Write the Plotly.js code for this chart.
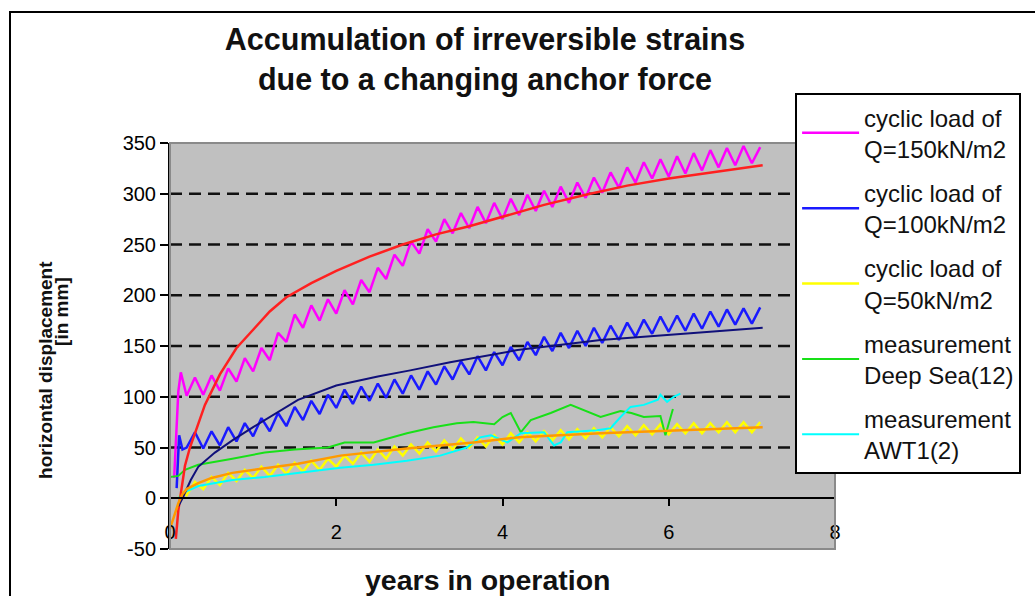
<!DOCTYPE html>
<html>
<head>
<meta charset="utf-8">
<script src="https://cdn.plot.ly/plotly-3.0.1.min.js"></script>
<style>
html, body { margin: 0; padding: 0; background: #ffffff; }
#chart { width: 1035px; height: 596px; }
</style>
</head>
<body>
<div id="chart"></div>
<script>
// ---------- data ----------
const cycleYears = [0.2,0.3,0.4,0.5,0.6,0.7,0.8,0.9,1.0,1.1,1.2,1.3,1.4,1.5,1.6,1.7,1.8,1.9,2.0,2.1,
  2.2,2.3,2.4,2.5,2.6,2.7,2.8,2.9,3.0,3.1,3.2,3.3,3.4,3.5,3.6,3.7,3.8,3.9,4.0,4.1,
  4.2,4.3,4.4,4.5,4.6,4.7,4.8,4.9,5.0,5.1,5.2,5.3,5.4,5.5,5.6,5.7,5.8,5.9,6.0,6.1,
  6.2,6.3,6.4,6.5,6.6,6.7,6.8,6.9,7.0,7.1];

const q150StartYears = [0.05, 0.1, 0.13];
const q150StartValues = [20, 105, 124];
const q150CycleValues = [101,119,102,121,106,128,115,138,125,148,136,163,154,181,168,190,175,196,182,205,
  191,215,203,227,216,240,229,253,241,265,253,275,261,281,266,287,271,291,275,295,
  279,299,283,303,287,307,291,311,296,316,301,321,306,326,311,331,315,334,317,337,
  320,340,323,343,326,345,328,347,330,346];

const q100StartYears = [0.08, 0.11, 0.15];
const q100StartValues = [10, 62, 48];
const q100CycleValues = [50,65,49,66,52,70,56,74,61,79,66,84,71,90,77,96,83,102,89,107,
  93,110,96,113,99,117,103,121,107,125,112,130,117,135,122,140,126,144,131,149,
  136,154,141,159,145,163,148,165,150,168,153,170,156,173,159,176,162,179,164,180,
  165,182,167,184,169,186,171,187,172,188];

const q50StartYears = [0.1, 0.15];
const q50StartValues = [0, 6];
const q50CycleValues = [3,16,9,21,13,25,17,28,20,31,22,33,24,35,26,37,28,39,31,42,
  34,45,36,48,39,51,42,53,44,55,46,57,48,59,50,60,51,62,53,64,
  55,65,56,66,57,67,58,68,59,69,60,70,61,71,62,72,63,73,63,73,
  64,74,64,74,65,75,65,75,65,75];

const fit150Years = [0.07,0.1,0.14,0.18,0.24,0.3,0.42,0.6,0.8,1.0,1.2,1.4,1.7,2.0,2.4,2.8,3.2,3.6,4.0,4.5,5.0,5.5,6.0,6.5,7.13];
const fit150Values = [-40,-12,10,32,50,64,92,122,148,166,184,198,212,224,238,250,260,268,277,289,299,308,315,321,328];

const fit100Years = [0.1,0.15,0.25,0.34,0.54,0.75,1.0,1.14,1.54,2.0,2.5,2.89,3.37,4.18,5.18,6.18,7.13];
const fit100Values = [-8,0,18,31,45,57,70,77,97,111,120,126,134,146,156,162,168];

const fit50Years = [0.0,0.05,0.1,0.15,0.2,0.34,0.5,0.75,1.0,1.54,2.05,2.85,3.65,4.2,5.18,6.27,7.13];
const fit50Values = [-30,-18,-5,4,9,15,20,25,28,34,42,49,55,60,64,67,70];

const deepSeaYears = [0,0.1,0.18,0.34,0.75,1.14,1.5,1.9,2.1,2.45,2.85,3.17,3.45,3.65,3.9,4.0,4.1,4.22,4.34,4.58,4.82,4.98,5.18,5.42,5.55,5.7,5.9,5.96,6.05];
const deepSeaValues = [21,22,28,33,39,45,48,50,55,55,64,70,74,75,73,80,84,65,77,84,92,87,80,86,84,80,81,62,88];

const awtYears = [0.1,0.15,0.34,0.75,1.14,1.54,2.05,2.45,2.85,3.25,3.57,3.73,3.86,4.06,4.22,4.5,4.62,4.7,4.78,5.14,5.3,5.42,5.54,5.7,5.87,5.9,5.98,6.06,6.14];
const awtValues = [0,5,12,18,21,25,30,33,37,42,50,60,62,55,64,65,52,55,65,67,69,80,90,92,97,102,95,100,103];

const seriesNames = [
  'cyclic load of<br>Q=150kN/m2',
  'cyclic load of<br>Q=100kN/m2',
  'cyclic load of<br>Q=50kN/m2',
  'measurement<br>Deep Sea(12)',
  'measurement<br>AWT1(2)'
];

const xTickValues = [0, 2, 4, 6, 8];
const yTickValues = [-50, 0, 50, 100, 150, 200, 250, 300, 350];
const gridValues = [50, 100, 150, 200, 250, 300];

// ---------- drawing ----------
const FONT = 'Liberation Sans, Arial, Helvetica, sans-serif';

function lineTrace(x, y, name, color, width, group, legend) {
  return {
    type: 'scatter', mode: 'lines', x: x, y: y, name: name,
    line: { color: color, width: width },
    legendgroup: group, showlegend: legend, hoverinfo: 'skip'
  };
}

const traces = [
  lineTrace(q150StartYears.concat(cycleYears), q150StartValues.concat(q150CycleValues), seriesNames[0], '#ff00ff', 2.5, 'g1', true),
  lineTrace(q100StartYears.concat(cycleYears), q100StartValues.concat(q100CycleValues), seriesNames[1], '#1a1aff', 2.5, 'g2', true),
  lineTrace(q50StartYears.concat(cycleYears), q50StartValues.concat(q50CycleValues), seriesNames[2], '#ffff00', 2.5, 'g3', true),
  lineTrace(deepSeaYears, deepSeaValues, seriesNames[3], '#18e018', 2, 'g4', true),
  lineTrace(awtYears, awtValues, seriesNames[4], '#00ffff', 2, 'g5', true),
  lineTrace(fit150Years, fit150Values, 'fit150', '#ff2020', 2.5, 'f1', false),
  lineTrace(fit100Years, fit100Values, 'fit100', '#10107a', 2, 'f2', false),
  lineTrace(fit50Years, fit50Values, 'fit50', '#ff9a00', 2.5, 'f3', false)
];

const shapes = gridValues.map(v => ({
  type: 'line', xref: 'paper', yref: 'y', x0: 0, x1: 1, y0: v, y1: v,
  line: { color: '#111111', width: 2.5, dash: '12px,7px' }, layer: 'below'
}));
// plot area border
shapes.push({ type: 'rect', xref: 'paper', yref: 'paper', x0: 0, x1: 1, y0: 0, y1: 1,
  line: { color: '#8a8a8a', width: 2 }, layer: 'above' });
// outer chart frame
shapes.push({ type: 'rect', xref: 'paper', yref: 'paper', x0: -0.2406, x1: 1.32, y0: -0.16, y1: 1.3227,
  line: { color: '#000000', width: 2 }, layer: 'below' });

const layout = {
  width: 1035, height: 596,
  margin: { l: 170, r: 200, t: 143, b: 47 },
  paper_bgcolor: '#ffffff',
  plot_bgcolor: '#c0c0c0',
  font: { family: FONT, color: '#111111' },
  title: {
    text: '<b>Accumulation of irreversible strains<br>due to a changing anchor force</b>',
    x: 0.4686, xanchor: 'center', xref: 'container',
    y: 0.916, yanchor: 'middle', yref: 'container',
    font: { family: FONT, size: 30.5, color: '#111111' }
  },
  xaxis: {
    range: [0, 8], anchor: 'free', position: 0.125,
    tickvals: xTickValues, ticktext: xTickValues.map(String),
    showline: true, linecolor: '#000000', linewidth: 2,
    ticks: 'outside', ticklen: 7, tickwidth: 2, tickcolor: '#000000',
    ticklabelstandoff: 9,
    showgrid: false, zeroline: false,
    tickfont: { family: FONT, size: 20, color: '#000000' },
    fixedrange: true
  },
  yaxis: {
    range: [-50, 350],
    tickvals: yTickValues, ticktext: yTickValues.map(String),
    showline: true, linecolor: '#000000', linewidth: 2,
    ticks: 'outside', ticklen: 8, tickwidth: 2, tickcolor: '#000000',
    showgrid: false, zeroline: false,
    tickfont: { family: FONT, size: 20, color: '#000000' },
    fixedrange: true
  },
  showlegend: true,
  legend: {
    x: 0.94, y: 1.123, xanchor: 'left', yanchor: 'top',
    bgcolor: '#ffffff', bordercolor: '#000000', borderwidth: 2,
    font: { family: FONT, size: 24, color: '#111111' },
    traceorder: 'grouped', tracegroupgap: 10,
    itemwidth: 57, maxheight: 500
  },
  shapes: shapes,
  annotations: [
    { text: '<b>years in operation</b>', xref: 'paper', yref: 'paper', x: 0.478, y: -0.076,
      xanchor: 'center', yanchor: 'middle', showarrow: false,
      font: { family: FONT, size: 28.5, color: '#111111' } },
    { text: '<b>horizontal displacement</b>', xref: 'paper', yref: 'paper', x: -0.1865, y: 0.441,
      xanchor: 'center', yanchor: 'middle', showarrow: false, textangle: -90,
      font: { family: FONT, size: 19, color: '#111111' } },
    { text: '<b>[in mm]</b>', xref: 'paper', yref: 'paper', x: -0.1624, y: 0.584,
      xanchor: 'center', yanchor: 'middle', showarrow: false, textangle: -90,
      font: { family: FONT, size: 19, color: '#111111' } }
  ]
};

Plotly.newPlot('chart', traces, layout, { staticPlot: true, displayModeBar: false });
</script>
</body>
</html>
